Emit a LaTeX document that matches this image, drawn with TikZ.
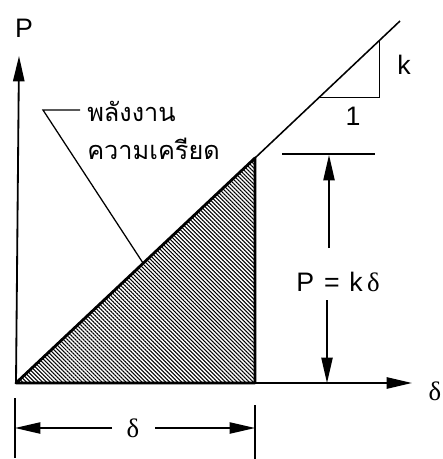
\documentclass[tikz,border=0pt]{standalone}
\usepackage{fontspec}
\setmainfont{Liberation Sans}
\newfontfamily\thaifont[Script=Thai]{Loma}
\newfontfamily\greekfont{Liberation Serif}
\usetikzlibrary{arrows.meta,patterns.meta}
\tikzset{
  axis/.style={line width=1.3pt,-{Triangle[length=18pt,width=8pt]}},
  dim/.style={line width=1pt,-{Triangle[length=18pt,width=8pt]}},
  tick/.style={line width=1pt},
  edge/.style={line width=1.1pt},
  bold/.style={line width=2pt,line join=round},
  lab/.style={inner sep=0pt,font=\fontsize{19}{22}\selectfont},
  thai/.style={inner sep=0pt,anchor=west,font=\thaifont\fontsize{18}{22}\selectfont},
  area/.style={pattern={Lines[angle=-45,distance=2pt,line width=0.75pt]}},
}
\newcommand{\dlt}{{\greekfont δ}}

\begin{document}
\begin{tikzpicture}[x=0.025cm,y=-0.025cm]
\useasboundingbox (0,0) rectangle (442,459);
% points of the plot
\coordinate (o) at (16,383);
\coordinate (ptip) at (19,56);
\coordinate (dtip) at (412,383);
\coordinate (top) at (400,21);
\coordinate (a) at (255,158);
\coordinate (b) at (255,383);
% strain energy area
\fill[area] (o) -- (a) -- (b) -- cycle;
\draw[bold] (o) -- (a) -- (b) -- cycle;
\draw[edge] (a) -- (top);
\draw[axis] (o) -- (ptip);
\draw[axis] (o) -- (dtip);
\node[lab] (pl) at (24,28) {P};
\node[lab] (dl) at (435,391) {\dlt};
% slope triangle
\coordinate (s1) at (320,97);
\coordinate (s2) at (379,97);
\coordinate (s3) at (379,41);
\draw[line width=0.7pt] (s1) -- (s2) -- (s3);
\node[lab] (kl) at (404,65) {k};
\node[lab] (one) at (353,116) {1};
% leader to the area
\coordinate (lk) at (43,110);
\coordinate (le) at (80,110);
\coordinate (lp) at (143,263);
\draw[line width=0.9pt] (le) -- (lk) -- (lp);
\node[thai] (en1) at (87,111) {พลังงาน};
\node[thai] (en2) at (87,149) {ความเครียด};
% height P
\coordinate (t1) at (282,154);
\coordinate (t2) at (375,154);
\draw[tick] (t1) -- (t2);
\node[lab] (pk) at (338,282) {P\hspace{7pt}=\hspace{7pt}k\hspace{3pt}\dlt};
\coordinate (u0) at (329,248);
\coordinate (ut) at (329,155);
\coordinate (d0) at (327,300);
\coordinate (dt) at (327,383);
\draw[dim] (u0) -- (ut);
\draw[dim] (d0) -- (dt);
% width delta
\coordinate (bl1) at (15,398);
\coordinate (bl2) at (15,458);
\coordinate (br1) at (255,405);
\coordinate (br2) at (255,459);
\draw[tick] (bl1) -- (bl2);
\draw[tick] (br1) -- (br2);
\node[lab] (wd) at (133,428) {\dlt};
\coordinate (wl) at (112,428);
\coordinate (wr) at (155,428);
\coordinate (wlt) at (15,428);
\coordinate (wrt) at (255,428);
\draw[dim] (wl) -- (wlt);
\draw[dim] (wr) -- (wrt);
\end{tikzpicture}
\end{document}
